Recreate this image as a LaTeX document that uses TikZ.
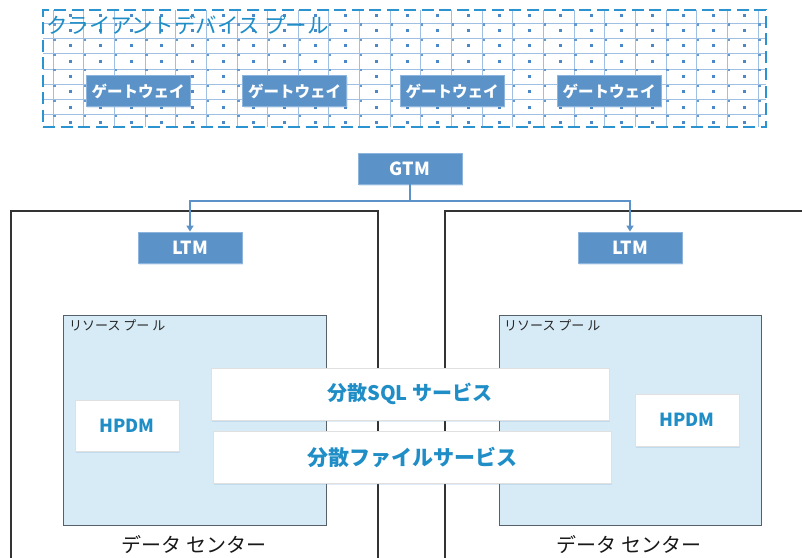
\documentclass[tikz,border=0pt]{standalone}
\usepackage{fontspec}
\setmainfont{Noto Sans CJK JP}
\usetikzlibrary{arrows.meta,shadows}
\definecolor{gwblue}{HTML}{5B93C8}
\definecolor{gwedge}{HTML}{8DB4DD}
\definecolor{txtblue}{HTML}{1F8DC6}
\definecolor{poolfill}{HTML}{D7EBF6}
\definecolor{pooledge}{HTML}{56606A}
\definecolor{gridln}{HTML}{9FC0E2}
\definecolor{dotblue}{HTML}{4A88C8}
\definecolor{dashblue}{HTML}{2A93D0}
\definecolor{dcedge}{HTML}{333333}
\tikzset{
  softshadow/.style={drop shadow={opacity=0.18, shadow xshift=1pt, shadow yshift=-1.5pt, fill=gwblue}},
  bluebox/.style={draw=gwedge, line width=0.8pt, fill=gwblue, text=white, inner sep=0pt,
    minimum width=104pt, minimum height=31pt, softshadow},
  gwtext/.style={font=\fontsize{15.5}{15.5}\selectfont\bfseries},
  tmtext/.style={font=\fontsize{18}{18}\selectfont\bfseries},
  whitebox/.style={draw=black!12, line width=0.6pt, fill=white, text=txtblue, inner sep=0pt, softshadow},
  svctext/.style={font=\fontsize{20}{20}\selectfont\bfseries},
  poolbox/.style={draw=pooledge, line width=0.9pt, fill=poolfill, inner sep=0pt},
  dcbox/.style={draw=dcedge, line width=1.5pt, fill=none, inner sep=0pt},
  link/.style={draw=gwblue, line width=1.8pt},
  linkarrow/.style={link, -{Triangle[width=7pt,length=6pt]}},
  smalllabel/.style={anchor=north west, inner sep=0pt, text=black!85, font=\fontsize{13}{13}\selectfont},
  dclabel/.style={inner sep=0pt, text=black!90, font=\fontsize{20}{20}\selectfont},
}
\begin{document}
\begin{tikzpicture}[x=1pt,y=-1pt]
\useasboundingbox (0,0) rectangle (802,557);
\clip (0,0) rectangle (802,557);
\fill[white] (0,0) rectangle (802,557);

% ---- client device pool ----
\begin{scope}
  \clip (43,10) rectangle (766,127);
  \foreach \k in {-1,...,24} {
    \draw[gridln, line width=0.8pt] ({53+30.65*\k},10) -- ({53+30.65*\k},127);
  }
  \foreach \j in {0,...,6} {
    \draw[gridln, line width=0.8pt] (43,{23+15.3*\j}) -- (766,{23+15.3*\j});
  }
  \foreach \k in {-1,...,24} {
    \foreach \j in {-1,...,7} {
      \fill[dotblue] ({70+30.65*\k-1.5},{30.65+15.3*\j-1.5}) rectangle ++(3,3);
      \fill[dotblue!85] ({53+30.65*\k+0.4},{23+15.3*\j+0.3}) rectangle ++(2.2,2.2);
    }
  }
\end{scope}
\node[draw=dashblue, line width=1.8pt, dash pattern=on 12pt off 5.5pt, fill=none,
      minimum width=723pt, minimum height=117pt, inner sep=0pt] (pool) at (404.5,68.5) {};
\node[anchor=west, text=txtblue, inner sep=0pt, font=\fontsize{21.5}{21.5}\selectfont] (pooltitle) at (46,25) {クライアントデバイス プール};

\node[bluebox, gwtext] (gw1) at (138,91) {ゲートウェイ};
\node[bluebox, gwtext] (gw2) at (294.5,91) {ゲートウェイ};
\node[bluebox, gwtext] (gw3) at (452,91) {ゲートウェイ};
\node[bluebox, gwtext] (gw4) at (609,91) {ゲートウェイ};

% ---- data centers ----
\node[dcbox, minimum width=367pt, minimum height=400pt] (dcL) at (194.5,411) {};
\node[dcbox, minimum width=370pt, minimum height=400pt] (dcR) at (630,411) {};

% ---- GTM / LTM ----
\node[bluebox, tmtext] (gtm) at (410,168.5) {GTM};
\node[bluebox, tmtext] (ltmL) at (190,247.5) {LTM};
\node[bluebox, tmtext] (ltmR) at (630,247.5) {LTM};
\coordinate (junc) at (410,201);
\draw[link] (gtm.south) -- (junc);
\draw[linkarrow] (junc) -| (ltmL.north);
\draw[linkarrow] (junc) -| (ltmR.north);

% ---- resource pools ----
\node[poolbox, minimum width=263pt, minimum height=210pt] (rpL) at (194.5,420) {};
\node[poolbox, minimum width=262pt, minimum height=210pt] (rpR) at (630,420) {};
\node[smalllabel] (rpLlabel) at (69,319.5) {リソース プー ル};
\node[smalllabel] (rpRlabel) at (504,319.5) {リソース プー ル};

\node[whitebox, font=\fontsize{18}{18}\selectfont\bfseries, minimum width=104pt, minimum height=51pt] (hpdmL) at (127,425.5) {HPDM};
\node[whitebox, font=\fontsize{18}{18}\selectfont\bfseries, minimum width=104pt, minimum height=52pt] (hpdmR) at (687,420) {HPDM};

\node[whitebox, svctext, minimum width=398pt, minimum height=52pt] (sql) at (410,394) {分散SQL サービス};
\node[whitebox, font=\fontsize{21}{21}\selectfont\bfseries, minimum width=398pt, minimum height=52pt] (file) at (412,457) {分散ファイルサービス};

\node[dclabel] (dcLlabel) at (194,545) {データ センター};
\node[dclabel] (dcRlabel) at (629,545) {データ センター};
\end{tikzpicture}
\end{document}
